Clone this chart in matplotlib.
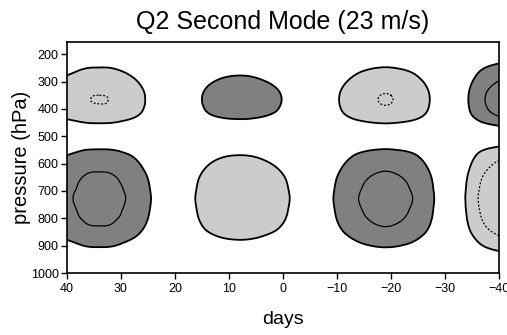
import numpy as np
import matplotlib
matplotlib.use("Agg")
import matplotlib.pyplot as plt
import matplotlib.tri as mtri

plt.rcParams['font.family'] = ['Liberation Sans', 'DejaVu Sans']

# time axis (days) and time coefficient of the mode
days = [40, 38, 36, 34, 32, 30, 28, 26, 24, 22, 20, 18, 16, 14, 12, 10, 8, 6, 4, 2, 0,
        -2, -4, -6, -8, -10, -12, -14, -16, -18, -20, -22, -24, -26, -28, -30, -32,
        -34, -36, -38, -40]
coef = [1.85, 2.15, 2.45, 2.5, 2.45, 2.15, 1.8, 1.35, 0.9, 0.4, -0.1, -0.6, -1.05,
        -1.4, -1.65, -1.8, -1.85, -1.8, -1.65, -1.45, -1.2, -0.85, -0.35, 0.2, 0.7,
        1.15, 1.6, 2.0, 2.3, 2.5, 2.5, 2.3, 2.0, 1.55, 1.0, 0.35, -0.35, -1.1, -1.95,
        -2.65, -3.2]

# pressure levels (hPa) and vertical structure of the second mode
pres = [150, 175, 200, 225, 250, 275, 300, 325, 350, 375, 400, 425, 450, 475, 500,
        525, 550, 575, 600, 625, 650, 675, 700, 725, 750, 775, 800, 825, 850, 875,
        900, 925, 950, 975, 1000]
prof = [-0.05, -0.12, -0.18, -0.27, -0.41, -0.53, -0.64, -0.74, -0.8, -0.805, -0.76,
        -0.64, -0.42, -0.2, 0.0, 0.2, 0.42, 0.57, 0.68, 0.78, 0.87, 0.93, 0.97, 1.0,
        0.98, 0.94, 0.89, 0.81, 0.7, 0.56, 0.43, 0.28, 0.15, 0.07, 0.02]

Z = np.outer(prof, coef)
X, Y = np.meshgrid(days, pres)

# smooth contour lines: refine a triangulation of the grid (pressure scaled for shape)
tri = mtri.Triangulation(X.ravel(), Y.ravel() / 12.5)
tri_f, z_f = mtri.UniformTriRefiner(tri).refine_field(Z.ravel(), subdiv=3)
tri_f = mtri.Triangulation(tri_f.x, tri_f.y * 12.5, tri_f.triangles)

fig = plt.figure(figsize=(5.07, 3.35), dpi=100)
ax = fig.add_axes([67/507, 1-273/335, 432/507, 231/335])

ax.tricontourf(tri_f, z_f, levels=[-100, -1], colors=['#cccccc'])
ax.tricontourf(tri_f, z_f, levels=[1, 100], colors=['#808080'])
ax.tricontour(tri_f, z_f, levels=[-1, 1], colors='black', linewidths=1.3, linestyles='solid')
ax.tricontour(tri_f, z_f, levels=[2], colors='black', linewidths=0.9, linestyles='solid')
ax.tricontour(tri_f, z_f, levels=[-2], colors='black', linewidths=0.9, linestyles=[(0, (1.5, 1.5))])

ax.set_xlim(40, -40)
ax.set_ylim(1000, 155)
ax.set_xticks(range(40, -41, -10))
ax.set_yticks(range(200, 1001, 100))
ax.tick_params(direction='out', length=4, width=1, labelsize=9, pad=2, top=False, right=False)
ax.tick_params(axis='x', pad=3)
for s in ax.spines.values():
    s.set_linewidth(1.2)

ax.set_title('Q2 Second Mode (23 m/s)', fontsize=18, pad=9)
ax.set_xlabel('days', fontsize=14, labelpad=12)
ax.set_ylabel('pressure (hPa)', fontsize=14.5, labelpad=0)

fig.savefig('out.png', dpi=100)
